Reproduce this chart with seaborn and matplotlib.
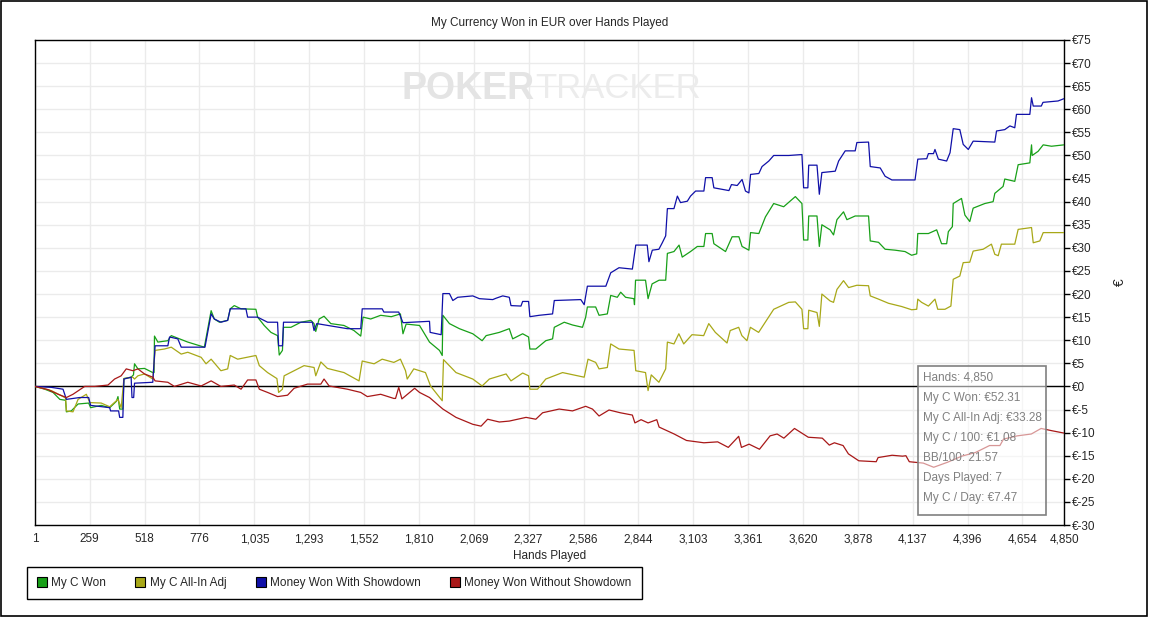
import numpy as np
import pandas as pd
import matplotlib
matplotlib.use("Agg")
import matplotlib.pyplot as plt
import seaborn as sns
from matplotlib.lines import Line2D
from matplotlib.patches import Rectangle

# ---- data (hand, euro) ----
won_hands = [1, 47, 86, 118, 145, 149, 172, 204, 254, 263, 313, 353, 385, 392, 400, 415, 420, 454, 465, 470,
             486, 517, 556, 562, 564, 580, 627, 643, 682, 721, 799, 812, 831, 846, 870, 909, 921, 940, 972, 1042,
             1050, 1081, 1113, 1144, 1152, 1167, 1172, 1207, 1254, 1301, 1316, 1324, 1340, 1363, 1395, 1457, 1504,
             1536, 1547, 1583, 1630, 1680, 1723, 1735, 1750, 1813, 1860, 1907, 1920, 1923, 1954, 2001, 2064, 2108,
             2127, 2189, 2236, 2252, 2299, 2327, 2333, 2361, 2408, 2440, 2448, 2495, 2534, 2581, 2596, 2604, 2643,
             2659, 2698, 2714, 2745, 2761, 2784, 2823, 2826, 2831, 2878, 2890, 2909, 2942, 2973, 2981, 3012, 3036,
             3051, 3090, 3122, 3153, 3161, 3192, 3200, 3255, 3286, 3318, 3333, 3365, 3373, 3412, 3443, 3482, 3529,
             3584, 3615, 3623, 3643, 3647, 3686, 3697, 3709, 3748, 3764, 3780, 3811, 3827, 3866, 3929, 3937, 3976,
             4007, 4054, 4101, 4132, 4156, 4161, 4211, 4250, 4273, 4297, 4305, 4324, 4328, 4367, 4383, 4406, 4422,
             4477, 4516, 4524, 4563, 4571, 4618, 4634, 4689, 4697, 4700, 4728, 4752, 4791, 4850]
won_vals = [0, -0.6, -1.3, -2.8, -3.0, -5.5, -5.3, -3.8, -3.6, -4.6, -4.1, -4.6, -3.2, -2.2, -4.9, -4.9, 1.7, 2.0, 2.5, 4.9,
            3.8, 3.9, 3.0, 3.0, 10.9, 9.6, 9.9, 11.0, 10.3, 9.6, 8.5, 11.7, 16.4, 14.6, 13.9, 14.3, 16.8, 17.5, 16.8, 16.7,
            15.0, 13.2, 11.7, 11.0, 6.8, 7.8, 12.8, 12.8, 13.9, 14.3, 13.6, 11.9, 14.6, 15.2, 13.6, 13.2, 12.1,
            10.9, 15.0, 14.6, 15.4, 15.1, 15.7, 11.4, 13.5, 13.2, 9.6, 7.8, 6.7, 15.4, 13.6, 12.5, 11.4, 9.9,
            11.0, 11.7, 12.5, 10.3, 11.4, 10.7, 8.1, 8.1, 9.9, 10.3, 12.8, 13.9, 13.3, 12.8, 15.0, 17.2, 17.2,
            15.4, 15.7, 19.7, 19.3, 20.4, 19.3, 19.0, 17.7, 23.0, 23.0, 19.0, 22.2, 23.0, 23.0, 28.8, 29.2, 30.6,
            28.0, 29.2, 30.3, 30.3, 33.1, 33.1, 30.9, 29.2, 32.4, 32.4, 30.3, 29.5, 33.3, 33.1, 36.7, 39.6, 38.9,
            41.1, 39.6, 31.7, 31.7, 36.9, 36.9, 30.3, 35.0, 33.9, 32.8, 36.1, 37.8, 36.1, 36.9, 36.9, 31.5, 31.2,
            29.7, 29.5, 29.2, 28.4, 28.7, 33.1, 33.1, 33.9, 30.9, 30.9, 33.5, 34.6, 39.6, 40.7, 37.1, 35.7, 38.6,
            39.6, 40.0, 41.8, 43.3, 44.9, 44.4, 48.0, 48.4, 52.3, 50.0, 50.9, 52.3, 52.0, 52.3]

adj_hands = [1, 78, 125, 145, 149, 180, 204, 243, 259, 313, 353, 392, 407, 420, 462, 470, 486, 517, 556, 567,
             611, 643, 690, 721, 784, 807, 831, 877, 909, 921, 956, 1042, 1058, 1097, 1141, 1149, 1167, 1175, 1222,
             1269, 1316, 1324, 1348, 1379, 1457, 1528, 1543, 1599, 1637, 1692, 1723, 1747, 1755, 1786, 1841, 1865,
             1920, 1926, 1985, 2064, 2108, 2142, 2221, 2244, 2299, 2327, 2333, 2369, 2408, 2487, 2589, 2607, 2643,
             2659, 2698, 2714, 2753, 2824, 2832, 2878, 2890, 2905, 2941, 2973, 2981, 3012, 3035, 3058, 3097, 3152,
             3176, 3207, 3262, 3277, 3317, 3332, 3356, 3372, 3411, 3442, 3482, 3553, 3584, 3615, 3623, 3643, 3647,
             3686, 3697, 3709, 3748, 3764, 3780, 3811, 3835, 3874, 3929, 3937, 3976, 4023, 4085, 4132, 4156, 4161,
             4179, 4211, 4242, 4255, 4289, 4317, 4328, 4359, 4375, 4406, 4422, 4469, 4508, 4524, 4540, 4555, 4618,
             4634, 4697, 4705, 4736, 4752, 4850]
adj_vals = [0, -0.9, -2.0, -2.5, -5.3, -5.5, -2.8, -1.7, -3.5, -3.6, -4.4, -2.8, -4.6, 1.7, 2.0, 1.6, 2.3, 2.7, 1.6, 7.8,
            8.1, 8.5, 7.0, 7.4, 6.3, 4.9, 5.9, 3.4, 3.8, 6.7, 5.9, 6.7, 4.5, 3.0, 1.7, -1.3, -0.6, 2.3, 3.4,
            4.5, 4.1, 2.3, 5.3, 3.9, 3.0, 1.2, 5.5, 4.9, 5.9, 5.2, 5.9, 3.4, 1.6, 3.8, 3.0, 0.1,
            -3.1, 5.8, 3.0, 1.6, 0.1, 1.6, 2.7, 1.2, 2.9, 2.3, -0.6, -0.6, 1.6, 3.0, 2.0, 5.9, 5.2,
            3.8, 4.1, 9.2, 8.1, 7.8, 3.4, 3.0, -0.9, 2.5, 0.9, 3.8, 9.6, 9.2, 11.4, 9.2, 11.2, 11.0,
            13.6, 11.7, 9.4, 12.1, 12.8, 11.0, 9.9, 12.8, 11.7, 13.9, 16.7, 18.2, 18.3, 16.7, 12.5, 12.5, 16.5,
            16.0, 13.0, 20.0, 18.5, 18.2, 21.0, 22.9, 21.4, 21.9, 21.8, 19.6, 18.9, 18.0, 17.3, 16.6, 16.7, 18.9,
            18.2, 17.4, 18.9, 16.7, 16.7, 17.4, 23.2, 23.9, 26.8, 26.9, 29.3, 29.7, 30.8, 28.6, 28.3, 30.8, 30.8,
            34.0, 34.4, 31.1, 31.5, 33.3, 33.3]

sd_hands = [1, 78, 133, 149, 212, 254, 263, 353, 357, 395, 400, 415, 420, 454, 458, 466, 470, 556, 567, 627,
            635, 674, 690, 802, 815, 831, 846, 877, 909, 921, 995, 1003, 1050, 1097, 1144, 1149, 1167, 1172, 1308,
            1316, 1329, 1473, 1536, 1543, 1637, 1645, 1715, 1735, 1860, 1863, 1915, 1923, 1954, 1970, 1993, 2064,
            2095, 2158, 2174, 2205, 2236, 2244, 2291, 2299, 2327, 2333, 2377, 2440, 2448, 2573, 2589, 2604, 2691,
            2714, 2753, 2816, 2832, 2886, 2894, 2910, 2941, 2957, 2973, 2981, 3012, 3028, 3043, 3075, 3090, 3114,
            3153, 3161, 3192, 3200, 3271, 3283, 3310, 3333, 3349, 3365, 3373, 3412, 3427, 3459, 3482, 3553, 3615,
            3623, 3643, 3647, 3686, 3697, 3709, 3772, 3788, 3819, 3866, 3874, 3929, 3937, 3984, 4007, 4039, 4148,
            4161, 4203, 4211, 4235, 4242, 4258, 4297, 4313, 4328, 4359, 4375, 4399, 4422, 4524, 4532, 4571, 4595,
            4618, 4626, 4689, 4697, 4705, 4743, 4751, 4822, 4850]
sd_vals = [0, -0.2, -0.6, -2.8, -2.4, -2.4, -4.1, -4.6, -5.3, -5.3, -6.7, -6.7, 1.6, 2.0, -2.4, -2.4, 0.7, 0.9, 8.8, 8.8,
           10.7, 10.3, 8.5, 8.5, 11.7, 15.7, 14.6, 13.9, 14.3, 16.8, 16.8, 15.0, 15.0, 13.9, 13.9, 8.8, 8.8, 13.9, 13.9,
           12.1, 13.6, 12.5, 12.5, 16.8, 16.8, 16.1, 16.1, 13.8, 14.1, 11.7, 11.2, 20.1, 20.1, 18.6, 19.3, 19.6,
           19.0, 18.8, 19.1, 19.6, 19.3, 17.5, 17.4, 18.4, 18.4, 15.1, 15.4, 15.7, 18.6, 18.8, 17.7, 21.7, 21.7,
           24.6, 25.7, 25.4, 30.6, 30.6, 27.0, 29.5, 29.7, 31.1, 32.6, 38.5, 38.5, 41.2, 39.8, 40.1, 41.2, 42.3,
           42.3, 45.2, 45.2, 43.0, 42.4, 43.7, 43.5, 44.8, 42.3, 41.9, 45.9, 46.1, 47.6, 48.8, 50.0, 50.0, 50.2,
           43.0, 43.0, 47.9, 47.9, 41.6, 46.3, 46.6, 48.8, 51.0, 51.0, 52.8, 52.9, 47.6, 47.3, 45.5, 44.7, 44.7,
           49.2, 49.3, 50.4, 50.4, 51.3, 49.2, 48.8, 50.6, 55.8, 55.6, 52.4, 51.3, 53.1, 52.9, 55.3, 55.6, 56.4,
           56.0, 58.9, 58.9, 62.5, 60.7, 60.7, 61.5, 61.8, 62.3]

nsd_hands = [1, 63, 110, 149, 180, 235, 282, 345, 376, 407, 431, 462, 486, 517, 556, 567, 627, 658, 721, 784,
             831, 877, 940, 972, 1003, 1042, 1058, 1097, 1144, 1191, 1222, 1285, 1348, 1363, 1387, 1473, 1536, 1567,
             1630, 1692, 1700, 1715, 1730, 1790, 1813, 1860, 1923, 1985, 2064, 2103, 2134, 2189, 2236, 2315, 2361,
             2393, 2471, 2534, 2596, 2628, 2659, 2706, 2759, 2816, 2828, 2857, 2890, 2931, 2942, 3013, 3071, 3153,
             3218, 3268, 3317, 3330, 3366, 3415, 3465, 3498, 3530, 3580, 3645, 3711, 3744, 3768, 3809, 3834, 3883,
             3965, 3974, 4040, 4089, 4105, 4121, 4187, 4236, 4302, 4368, 4433, 4499, 4548, 4565, 4630, 4696, 4742,
             4794, 4850]
nsd_vals = [0, -0.7, -1.7, -2.4, -1.7, 0, 0, 0.3, 1.6, 2.3, 3.8, 3.4, 3.8, 2.7, 2.0, 1.2, 0.9, 0, 0.9, 0.1,
            1.2, 0, 0.3, -0.6, 1.4, 1.4, -0.6, -1.3, -2.2, -1.9, -0.4, 0.5, 0.5, 1.6, 0.1, -0.6, -1.3, -2.2,
            -1.7, -2.6, -2.6, -0.2, -2.7, -0.4, -1.3, -2.4, -4.9, -6.7, -8.2, -8.6, -7.1, -7.7, -7.5, -6.7, -7.1,
            -5.7, -4.9, -5.3, -4.3, -4.9, -6.4, -5.1, -5.7, -6.2, -7.9, -7.2, -7.9, -7.2, -8.8, -10.3, -11.7, -12.2,
            -12.0, -13.2, -10.8, -13.2, -12.5, -13.6, -10.7, -10.3, -11.2, -9.1, -11.0, -11.2, -12.7, -12.2, -12.8, -14.6, -16.1,
            -16.3, -15.4, -14.9, -15.1, -15.0, -16.3, -16.6, -17.5, -16.4, -15.1, -14.3, -12.8, -12.8, -11.4, -10.7, -10.3, -9.1,
            -9.6, -10.1]

series_names = ["My C Won", "My C All-In Adj", "Money Won With Showdown", "Money Won Without Showdown"]
series_colors = ["#18a018", "#a8a818", "#1010a8", "#a81818"]

x_ticks = [1, 259, 518, 776, 1035, 1293, 1552, 1810, 2069, 2327, 2586, 2844, 3103, 3361, 3620, 3878, 4137,
           4396, 4654, 4850]
y_ticks = list(range(-30, 80, 5))

info_lines = ["Hands: 4,850", "My C Won: €52.31", "My C All-In Adj: €33.28", "My C / 100: €1.08",
              "BB/100: 21.57", "Days Played: 7", "My C / Day: €7.47"]

# ---- style ----
sns.set_style("white")
plt.rcParams["font.family"] = ["Liberation Sans", "DejaVu Sans"]

W, H = 1149, 617
fig = plt.figure(figsize=(W / 100, H / 100), dpi=100)
ax = fig.add_axes([35 / W, 1 - 525 / H, (1064 - 35) / W, (525 - 40) / H])

frames = [
    pd.DataFrame({"hand": won_hands, "eur": won_vals}),
    pd.DataFrame({"hand": adj_hands, "eur": adj_vals}),
    pd.DataFrame({"hand": sd_hands, "eur": sd_vals}),
    pd.DataFrame({"hand": nsd_hands, "eur": nsd_vals}),
]
for df, c in zip(frames, series_colors):
    sns.lineplot(data=df, x="hand", y="eur", ax=ax, color=c, linewidth=0.9, sort=False,
                 estimator=None, legend=False, zorder=3)

ax.axhline(0, color="black", linewidth=1, zorder=2)
ax.set_xlim(1, 4850)
ax.set_ylim(-30, 75)
ax.set_xticks(x_ticks)
ax.set_xticklabels([f"{t:,}" for t in x_ticks], fontsize=8.5)
ax.set_yticks(y_ticks)
ax.set_yticklabels([f"€{t}" for t in y_ticks], fontsize=8.5)
ax.yaxis.tick_right()
ax.yaxis.set_label_position("right")
ax.tick_params(axis="both", direction="out", length=4, width=1, color="black", pad=2)
ax.grid(True, color="#ebebeb", linewidth=1, zorder=0)
ax.set_axisbelow(True)
for s in ax.spines.values():
    s.set_color("black")
    s.set_linewidth(1)

ax.set_xlabel("Hands Played", fontsize=8.5, labelpad=3)
ax.set_ylabel("€", fontsize=10, labelpad=12)
ax.set_title("My Currency Won in EUR over Hands Played", fontsize=8.5, pad=10)

# watermark
ax.text(535 / W, 1 - 89 / H, "POKER", transform=fig.transFigure, ha="right", va="center",
        fontsize=27, fontweight="bold", color="#e4e4e4", zorder=1)
ax.text(535 / W, 1 - 89 / H, "TRACKER", transform=fig.transFigure, ha="left", va="center",
        fontsize=25, color="#ececec", zorder=1)

# info box
fig.patches.append(Rectangle((918 / W, 1 - 515 / H), (1046 - 918) / W, (515 - 366) / H,
                             transform=fig.transFigure, facecolor="white", alpha=0.55,
                             edgecolor="none", zorder=5))
fig.patches.append(Rectangle((918 / W, 1 - 515 / H), (1046 - 918) / W, (515 - 366) / H,
                             transform=fig.transFigure, facecolor="none", edgecolor="#808080",
                             linewidth=1.2, zorder=6))
for i, line in enumerate(info_lines):
    fig.text(923 / W, 1 - (378 + 20 * i) / H, line, fontsize=8.5, color="#808080",
             ha="left", va="center", zorder=7)

# legend
handles = [Line2D([], [], linestyle="none", marker="s", markersize=7, markerfacecolor=c,
                  markeredgecolor="black", markeredgewidth=0.8) for c in series_colors]
fig.legend(handles, series_names, loc="upper left", bbox_to_anchor=(27 / W, 1 - 567 / H), ncol=4,
           frameon=True, fancybox=False, edgecolor="black", framealpha=1, fontsize=8.5,
           handlelength=0.8, handletextpad=0.4, columnspacing=2.5, borderpad=0.85, borderaxespad=0)

# outer border
fig.patches.append(Rectangle((0.0005, 0.001), 0.998, 0.998, transform=fig.transFigure,
                             facecolor="none", edgecolor="black", linewidth=1.2))

fig.savefig("out.png", dpi=100)
